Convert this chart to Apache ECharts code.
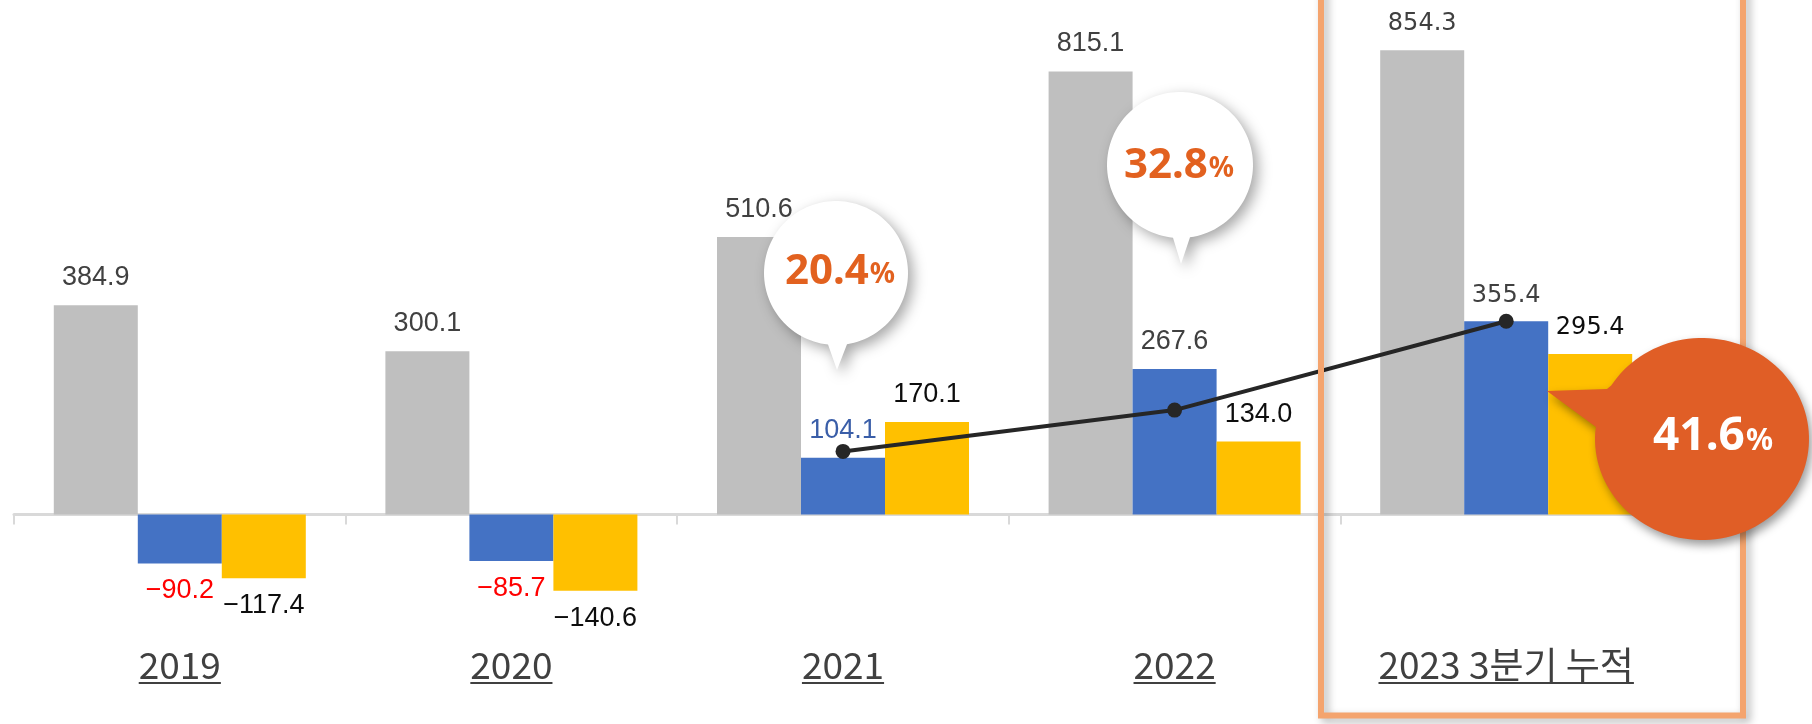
<!DOCTYPE html>
<html>
<head>
<meta charset="utf-8">
<script src="https://cdn.jsdelivr.net/npm/echarts@6/dist/echarts.min.js"></script>
<style>
  html, body { margin: 0; padding: 0; background: #fff; }
  #main { width: 1812px; height: 724px; }
</style>
</head>
<body>
<div id="main"></div>
<script>
// 데이터
const categories = ['2019', '2020', '2021', '2022', '2023 3분기 누적']
const grayValues = [384.9, 300.1, 510.6, 815.1, 854.3]
const blueValues = [-90.2, -85.7, 104.1, 267.6, 355.4]
const yellowValues = [-117.4, -140.6, 170.1, 134.0, 295.4]
// 꺾은선 (그림에서 읽은 위치)
const trendValues = [null, null, 116, 192, 355.4]
const rateLabels = ['20.4', '32.8', '41.6']

// 라벨 색
const grayLabelColors = ['#404040', '#404040', '#404040', '#404040', '#404040']
const blueLabelColors = ['#ff0000', '#ff0000', '#3a5ea8', '#404040', '#404040']
const yellowLabelColors = ['#0d0d0d', '#0d0d0d', '#0d0d0d', '#0d0d0d', '#0d0d0d']

const fmt = (v) => v.toFixed(1).replace('-', '\u2212')

const toItems = (values, colors) =>
  values.map((v, i) => ({
    value: v,
    label: {
      color: colors[i],
      position: v < 0 ? 'bottom' : 'top',
      fontFamily: i === 4 ? 'DejaVu Sans' : 'Liberation Sans',
      fontSize: i === 4 ? 24 : 27
    }
  }))

// 말풍선: 타원 + 꼬리 (a -> tip -> b, 타원은 b에서 a까지 긴 쪽으로)
const bubblePoints = (cx, cy, rx, ry, a, tip, b) => {
  const angA = Math.atan2((a[1] - cy) / ry, (a[0] - cx) / rx)
  const angB = Math.atan2((b[1] - cy) / ry, (b[0] - cx) / rx)
  const pts = [a, tip, b]
  let diff = angA - angB
  while (diff <= 0) diff += Math.PI * 2
  let dir = 1
  if (diff < Math.PI) {
    diff = Math.PI * 2 - diff
    dir = -1
  }
  const n = 120
  for (let k = 1; k < n; k++) {
    const t = angB + dir * diff * k / n
    pts.push([cx + rx * Math.cos(t), cy + ry * Math.sin(t)])
  }
  return pts
}

const rateText = (x, y, txt, color, big, small) => ({
  type: 'text',
  x: x,
  y: y,
  z: 101,
  style: {
    text: `{n|${txt}}{p|%}`,
    align: 'center',
    verticalAlign: 'middle',
    rich: {
      n: { fontFamily: 'Noto Sans', fontWeight: 'bold', fontSize: big, fill: color, verticalAlign: 'bottom' },
      p: { fontFamily: 'Noto Sans', fontWeight: 'bold', fontSize: small, fill: color, verticalAlign: 'bottom', padding: [0, 0, 4, 1] }
    }
  }
})

const chartDom = document.getElementById('main')
const myChart = echarts.init(chartDom, null, { renderer: 'canvas' })

const graphics = [
  // 2023 강조 박스
  {
    type: 'rect',
    z: 50,
    shape: { x: 1321, y: -20, width: 422, height: 735.5 },
    style: {
      fill: 'none',
      stroke: '#f4a46e',
      lineWidth: 6,
      shadowBlur: 8,
      shadowOffsetX: 4,
      shadowOffsetY: 4,
      shadowColor: 'rgba(0,0,0,0.3)'
    }
  },
  {
    type: 'polygon',
    z: 100,
    shape: { points: bubblePoints(836, 273, 72, 72, [828, 344.5], [837, 370], [847, 344.2]) },
    style: { fill: '#ffffff', shadowBlur: 14, shadowOffsetX: 5, shadowOffsetY: 5, shadowColor: 'rgba(0,0,0,0.35)' }
  },
  {
    type: 'polygon',
    z: 100,
    shape: { points: bubblePoints(1180, 165, 73, 73, [1173, 237.7], [1181, 264], [1190, 237.3]) },
    style: { fill: '#ffffff', shadowBlur: 14, shadowOffsetX: 5, shadowOffsetY: 5, shadowColor: 'rgba(0,0,0,0.35)' }
  },
  {
    type: 'polygon',
    z: 100,
    shape: { points: bubblePoints(1702, 439, 107, 101, [1607, 389], [1547, 391], [1596, 427]) },
    style: { fill: '#e05e26', shadowBlur: 10, shadowOffsetX: 3, shadowOffsetY: 5, shadowColor: 'rgba(0,0,0,0.4)' }
  },
  rateText(840, 272, rateLabels[0], '#e2611f', 42, 28),
  rateText(1179, 166, rateLabels[1], '#e2611f', 42, 28),
  rateText(1713, 437, rateLabels[2], '#ffffff', 46, 30)
]

const option = {
  animation: false,
  backgroundColor: '#ffffff',
  grid: {
    left: 14,
    right: 140,
    top: 25.3,
    bottom: 46.5,
    containLabel: false
  },
  xAxis: {
    type: 'category',
    data: categories,
    axisLine: {
      onZero: true,
      lineStyle: { color: '#d9d9d9', width: 3 }
    },
    axisTick: {
      show: true,
      length: 10,
      lineStyle: { color: '#d9d9d9', width: 2 }
    },
    axisLabel: { show: false },
    splitLine: { show: false }
  },
  yAxis: {
    type: 'value',
    show: false,
    min: -300,
    max: 900,
    splitLine: { show: false }
  },
  series: [
    {
      name: '매출액',
      type: 'bar',
      barWidth: 84,
      barGap: '0%',
      itemStyle: { color: '#bfbfbf' },
      label: { show: true, distance: 14, formatter: (p) => fmt(p.value) },
      data: toItems(grayValues, grayLabelColors)
    },
    {
      name: '영업이익',
      type: 'bar',
      barWidth: 84,
      barGap: '0%',
      itemStyle: { color: '#4472c4' },
      label: { show: true, distance: 14, formatter: (p) => fmt(p.value) },
      data: toItems(blueValues, blueLabelColors)
    },
    {
      name: '당기순이익',
      type: 'bar',
      barWidth: 84,
      barGap: '0%',
      itemStyle: { color: '#ffc000' },
      label: { show: true, distance: 14, formatter: (p) => fmt(p.value) },
      data: toItems(yellowValues, yellowLabelColors)
    },
    {
      name: '추이',
      type: 'line',
      z: 5,
      symbol: 'circle',
      symbolSize: 15,
      lineStyle: { color: '#262626', width: 4 },
      itemStyle: { color: '#262626' },
      data: trendValues
    }
  ],
  graphic: graphics
}

myChart.setOption(option)

// 카테고리 라벨 (밑줄 포함) - 축 위치에서 계산
const catFont = '37px "Noto Sans CJK KR"'
const ctx = document.createElement('canvas').getContext('2d')
ctx.font = catFont
const catLabels = []
categories.forEach((c, i) => {
  const cx = myChart.convertToPixel({ xAxisIndex: 0 }, i)
  const w = ctx.measureText(c).width
  catLabels.push({
    type: 'text',
    x: cx,
    y: 665,
    z: 60,
    style: { text: c, font: catFont, fill: '#404040', align: 'center', verticalAlign: 'middle' }
  })
  catLabels.push({
    type: 'line',
    z: 60,
    shape: { x1: cx - w / 2, y1: 683, x2: cx + w / 2, y2: 683 },
    style: { stroke: '#404040', lineWidth: 2 }
  })
})
myChart.setOption({ graphic: graphics.concat(catLabels) })
</script>
</body>
</html>
